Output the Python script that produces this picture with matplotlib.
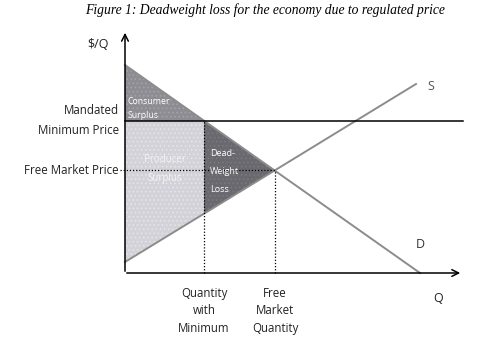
import matplotlib
matplotlib.use("Agg")
import matplotlib.pyplot as plt
import numpy as np

# economic model (quantity / price units)
demand_q = [0, 295]
demand_p = [208, 0]
supply_q = [0, 291]
supply_p = [11, 189]
min_price = 152
eq_q, eq_p = 150, 103
min_q = 79
supply_at_min_q = 59

title = "Figure 1: Deadweight loss for the economy due to regulated price"

plt.rcParams['font.family'] = ['Open Sans', 'DejaVu Sans']
plt.rcParams['hatch.linewidth'] = 0.6

fig = plt.figure(figsize=(4.84, 3.53), dpi=100)
ax = fig.add_axes([0, 0, 1, 1])
ax.set_xlim(-125, 359)
ax.set_ylim(-80, 273)
ax.axis("off")

# shaded areas (with a light dotted texture like the original)
ax.fill([0, 0, min_q], [demand_p[0], min_price, min_price], facecolor="#8d8d93",
        edgecolor="#a4a4aa", hatch="....", lw=0, zorder=1)
ax.fill([0, min_q, min_q, 0], [min_price, min_price, supply_at_min_q, supply_p[0]],
        facecolor="#d2d2d8", edgecolor="#e6e6ec", hatch="....", lw=0, zorder=1)
ax.fill([min_q, eq_q, min_q], [min_price, eq_p, supply_at_min_q], facecolor="#69696f",
        edgecolor="#7a7a80", hatch="....", lw=0, zorder=1)

# supply and demand
ax.plot(demand_q, demand_p, color="#8c8c8c", lw=1.4, zorder=2)
ax.plot(supply_q, supply_p, color="#8c8c8c", lw=1.4, zorder=2)

# price lines
ax.plot([0, 338], [min_price, min_price], color="black", lw=1.1, zorder=3)
ax.plot([-5, eq_q], [eq_p, eq_p], color="black", lw=0.9, ls=(0, (1, 1.5)), zorder=3)
ax.plot([min_q, min_q], [0, min_price], color="black", lw=0.9, ls=(0, (1, 1.5)), zorder=3)
ax.plot([eq_q, eq_q], [0, eq_p], color="black", lw=0.9, ls=(0, (1, 1.5)), zorder=3)

# axes arrows
ax.annotate("", xy=(0, 243), xytext=(0, -1),
            arrowprops=dict(arrowstyle="->", color="black", lw=1.1, mutation_scale=12))
ax.annotate("", xy=(338, 0), xytext=(-1, 0),
            arrowprops=dict(arrowstyle="->", color="black", lw=1.1, mutation_scale=12))

fs = 8.3
tc = "#222222"
ax.text(-16, 228, "$/Q", fontsize=9, color=tc, ha="right", va="center")
ax.text(-6, 163, "Mandated", fontsize=fs, color=tc, ha="right", va="center")
ax.text(-6, 143, "Minimum Price", fontsize=fs, color=tc, ha="right", va="center")
ax.text(-6, eq_p, "Free Market Price", fontsize=fs, color=tc, ha="right", va="center")
ax.text(min_q, -14, "Quantity\nwith\nMinimum", fontsize=fs, color=tc, ha="center", va="top",
        linespacing=1.45)
ax.text(eq_q, -14, "Free\nMarket\nQuantity", fontsize=fs, color=tc, ha="center", va="top",
        linespacing=1.45)
ax.text(313, -26, "Q", fontsize=9, color=tc, ha="center", va="center")
ax.text(306, 187, "S", fontsize=9, color="#555555", ha="center", va="center")
ax.text(295, 28, "D", fontsize=9, color="#333333", ha="center", va="center")

ax.text(3, 172, "Consumer", fontsize=6.3, color="white", va="center", zorder=4)
ax.text(3, 157, "Surplus", fontsize=6.3, color="white", va="center", zorder=4)
ax.text(40, 113, "Producer", fontsize=7, color="#f4f4f4", ha="center", va="center", zorder=4)
ax.text(40, 94, "Surplus", fontsize=7, color="#f4f4f4", ha="center", va="center", zorder=4)
ax.text(85, 120, "Dead-", fontsize=6.5, color="white", va="center", zorder=4)
ax.text(85, 102, "Weight", fontsize=6.5, color="white", va="center", zorder=4)
ax.text(85, 84, "Loss", fontsize=6.5, color="white", va="center", zorder=4)

fig.text(0.547, 0.972, title, fontsize=9.8, family="Liberation Serif", style="italic",
         ha="center", va="center")

fig.savefig("out.png", dpi=100)
